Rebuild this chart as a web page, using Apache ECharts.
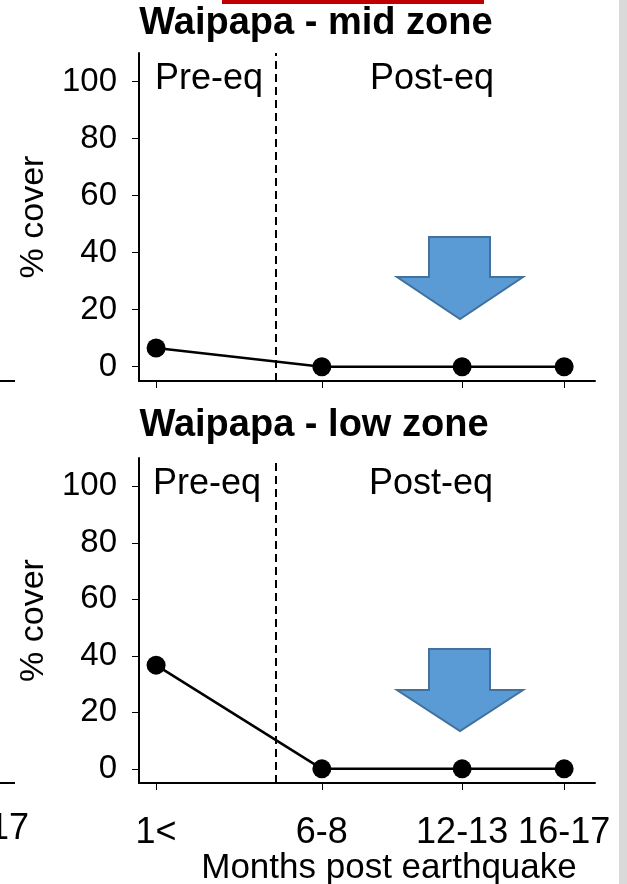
<!DOCTYPE html>
<html>
<head>
<meta charset="utf-8">
<script src="https://cdn.jsdelivr.net/npm/echarts@6/dist/echarts.min.js"></script>
<style>
html,body{margin:0;padding:0;background:#fff;}
#chart{width:627px;height:884px;}
</style>
</head>
<body>
<div id="chart"></div>
<script>
// Data
var monthPositions = [0.5, 7, 12.5, 16.5];
var monthLabels = ['1<', '6-8', '12-13', '16-17'];
var midZoneCover = [6.6, 0, 0, 0];
var lowZoneCover = [36.7, 0, 0, 0];
var yTicks = [0, 20, 40, 60, 80, 100];
var earthquakeAt = 5.2;
var panelTitles = ['Waipapa - mid zone', 'Waipapa - low zone'];
var xAxisTitle = 'Months post earthquake';

var FONT = '"Liberation Sans", Arial, sans-serif';

function pairs(vals) {
  return monthPositions.map(function (m, i) { return [m, vals[i]]; });
}

function xAxisFor(idx, showLabels) {
  return {
    type: 'value', gridIndex: idx, min: -0.17, max: 17.71,
    splitLine: { show: false },
    axisLine: { show: true, onZero: false, lineStyle: { color: '#000', width: 2 } },
    axisTick: { show: true, customValues: monthPositions, length: 7, lineStyle: { color: '#000', width: 1 } },
    axisLabel: {
      show: showLabels, customValues: monthPositions, margin: 32,
      fontFamily: FONT, fontSize: 36, color: '#000',
      formatter: function (v) {
        var i = monthPositions.indexOf(v);
        return i >= 0 ? monthLabels[i] : '';
      }
    }
  };
}

function yAxisFor(idx) {
  return {
    type: 'value', gridIndex: idx, min: -5, max: 110,
    splitLine: { show: false },
    axisLine: { show: true, onZero: false, lineStyle: { color: '#000', width: 2 } },
    axisTick: { show: true, customValues: yTicks, length: 7, lineStyle: { color: '#000', width: 1 } },
    axisLabel: { customValues: yTicks, margin: 22, fontFamily: FONT, fontSize: 33, color: '#000' },
    name: '% cover', nameLocation: 'middle', nameGap: 84, nameRotate: 90,
    nameTextStyle: { fontFamily: FONT, fontSize: 34, color: '#000' }
  };
}

function seriesFor(idx, vals) {
  return {
    type: 'line', xAxisIndex: idx, yAxisIndex: idx,
    data: pairs(vals),
    symbol: 'circle', symbolSize: 19,
    lineStyle: { color: '#000', width: 2.5 },
    itemStyle: { color: '#000' },
    silent: true, animation: false,
    markLine: {
      silent: true, symbol: 'none', label: { show: false },
      lineStyle: { color: '#000', type: [8, 5], width: 2 },
      data: [{ xAxis: earthquakeAt }]
    }
  };
}

function arrow(top, shoulder, tip) {
  return {
    type: 'polygon',
    shape: { points: [[429, top], [490, top], [490, shoulder], [523, shoulder], [460, tip], [397, shoulder], [429, shoulder]] },
    style: { fill: '#5b9bd5', stroke: '#41719c', lineWidth: 2 }
  };
}

function txt(x, y, s, size, bold, align) {
  return {
    type: 'text', x: x, y: y,
    style: { text: s, font: (bold ? 'bold ' : '') + size + 'px ' + FONT, fill: '#000',
      align: align || 'center', verticalAlign: 'middle' }
  };
}

var chart = echarts.init(document.getElementById('chart'), null, { renderer: 'canvas' });
chart.setOption({
  animation: false,
  backgroundColor: '#fff',
  grid: [
    { left: 139, right: 32, top: 53, height: 328 },
    { left: 139, right: 32, top: 458, height: 325 }
  ],
  xAxis: [xAxisFor(0, false), xAxisFor(1, true)],
  yAxis: [yAxisFor(0), yAxisFor(1)],
  series: [seriesFor(0, midZoneCover), seriesFor(1, lowZoneCover)],
  graphic: [
    { type: 'rect', shape: { x: 222, y: 0, width: 262, height: 4 }, style: { fill: '#c00000' } },
    { type: 'rect', shape: { x: 619, y: 0, width: 8, height: 884 }, style: { fill: '#d9d9d9' } },
    { type: 'rect', shape: { x: 0, y: 380, width: 15, height: 2 }, style: { fill: '#000' } },
    { type: 'rect', shape: { x: 0, y: 782, width: 15, height: 2 }, style: { fill: '#000' } },
    txt(29, 829, '16-17', 36, false, 'right'),
    txt(389, 868, xAxisTitle, 35, false),
    txt(316, 24, panelTitles[0], 38, true),
    txt(314, 426, panelTitles[1], 38, true),
    txt(209, 79, 'Pre-eq', 36, false),
    txt(432, 79, 'Post-eq', 36, false),
    txt(207, 484, 'Pre-eq', 36, false),
    txt(431, 484, 'Post-eq', 36, false),
    arrow(237, 277, 319),
    arrow(649, 690, 731)
  ]
});
</script>
</body>
</html>
